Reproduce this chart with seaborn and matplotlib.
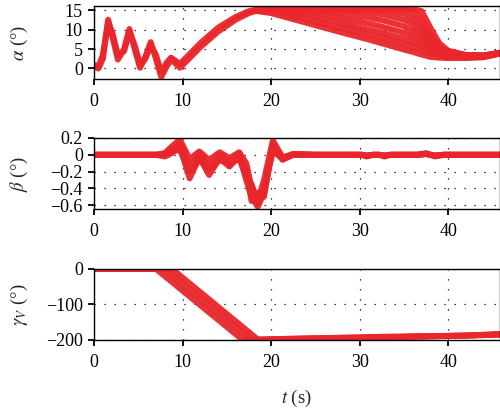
import numpy as np
import pandas as pd
import matplotlib
matplotlib.use("Agg")
import matplotlib.pyplot as plt
import seaborn as sns

# ---------------- data ----------------
# alpha: early common part (two runs) and the late fan (several runs)
alpha_t_early = [0, 0.5, 1.0, 1.6, 2.1, 2.7, 3.4, 4.0, 4.6, 5.2, 5.8, 6.4, 7.0, 7.6,
                 8.2, 8.7, 9.2, 9.7, 10.5, 12, 14, 16, 17.5, 18.5]
alpha_early_1 = [0.5, 0.0, 2.5, 12.6, 8.0, 2.3, 5.0, 10.2, 5.0, 0.2, 3.0, 6.8, 2.5, -2.2,
                 0.5, 2.3, 1.3, 0.2, 2.0, 5.5, 9.5, 12.6, 14.3, 15.0]
alpha_early_2 = [1.0, 0.5, 3.5, 12.0, 9.0, 3.5, 4.5, 9.5, 6.0, 1.0, 2.5, 6.0, 3.5, -1.0,
                 1.5, 2.8, 2.0, 1.2, 3.0, 6.5, 10.5, 13.3, 14.8, 15.3]

alpha_t_late = [18.5, 20, 24, 28, 31, 33, 35, 36, 37, 38, 39, 40, 42, 44, 46]
alpha_late_A = [14.8, 14.3, 11.8, 9.3, 7.5, 6.2, 4.9, 4.3, 3.6, 3.0, 2.8, 2.7, 2.7, 2.9, 3.9]
alpha_late_B = [15.0, 14.9, 12.8, 10.4, 8.8, 7.6, 6.3, 5.6, 4.8, 4.0, 3.3, 3.0, 2.9, 3.0, 4.0]
alpha_late_C = [15.1, 15.2, 13.8, 11.6, 10.0, 8.9, 7.6, 6.8, 5.8, 4.6, 3.7, 3.2, 3.0, 3.1, 4.0]
alpha_late_D = [15.2, 15.4, 14.8, 13.0, 11.6, 10.5, 9.2, 8.3, 7.0, 5.5, 4.2, 3.5, 3.1, 3.2, 4.0]
alpha_late_E = [15.3, 15.5, 15.3, 14.3, 13.2, 12.2, 10.9, 9.8, 8.2, 6.2, 4.5, 3.7, 3.2, 3.2, 4.1]
alpha_late_F = [15.3, 15.6, 15.5, 15.2, 14.6, 13.8, 12.6, 11.5, 9.6, 6.8, 4.8, 3.9, 3.3, 3.3, 4.1]
alpha_late_G = [15.3, 15.6, 15.6, 15.5, 15.3, 15.0, 14.2, 13.0, 10.8, 7.4, 5.1, 4.0, 3.3, 3.3, 4.1]
alpha_late_H = [15.3, 15.6, 15.6, 15.6, 15.6, 15.5, 15.3, 14.8, 12.5, 8.5, 5.6, 4.3, 3.4, 3.3, 4.1]
alpha_late_I = [15.3, 15.6, 15.6, 15.6, 15.6, 15.6, 15.5, 15.4, 14.8, 10.5, 6.5, 4.6, 3.5, 3.4, 4.1]

# beta runs
beta_t = [0, 7, 8, 8.8, 9.7, 10.8, 11.9, 13.0, 14.2, 15.3, 16.4, 17.2, 17.8, 18.5, 19.2,
          20.2, 21.3, 22.5, 25, 30.2, 30.8, 31.5, 32.2, 32.8, 33.5, 36.5, 37.5, 38.5, 39.5, 46]
beta_1 = [0, 0, 0.02, 0.10, 0.18, -0.05, 0.04, -0.06, 0.03, -0.04, 0.03, -0.10, -0.40, -0.55, -0.30,
          0.17, -0.03, 0.01, 0, 0, -0.02, 0, 0, -0.02, 0, 0, 0.01, -0.01, 0, 0]
beta_2 = [0, 0, -0.02, 0.02, 0.10, -0.28, -0.03, -0.24, -0.04, -0.14, -0.01, -0.30, -0.50, -0.62, -0.45,
          0.08, -0.06, 0, 0, 0, -0.01, 0, 0, -0.01, 0, 0, 0.02, -0.02, 0, 0]
beta_3 = [0, 0, 0.01, 0.06, 0.14, -0.15, 0.02, -0.15, 0.0, -0.10, 0.01, -0.20, -0.55, -0.45, -0.50,
          0.12, -0.05, 0.01, 0, 0, -0.01, 0, 0, -0.01, 0, 0, 0.01, -0.01, 0, 0]
beta_4 = [0, 0, 0.0, 0.04, 0.06, -0.20, -0.06, -0.18, -0.06, -0.12, -0.04, -0.25, -0.35, -0.58, -0.40,
          0.04, -0.04, 0, 0, 0, -0.01, 0, 0, -0.01, 0, 0, 0.01, -0.01, 0, 0]

# gamma_V runs
gamma_t_1 = [0, 7.0, 16.8, 18.0, 22, 26, 33, 42, 46]
gamma_1 = [0, 0, -200, -199, -197, -195, -191, -188, -185]
gamma_t_2 = [0, 8.8, 18.7, 20, 23, 33, 36, 42, 46]
gamma_2 = [0, 0, -203, -201, -198, -193, -191, -188, -183]
gamma_t_3 = [0, 7.9, 17.8, 19.5, 24, 32, 40, 46]
gamma_3 = [0, 0, -201, -199, -196, -193, -189, -185]

x_ticks = [0, 10, 20, 30, 40]
alpha_ticks = [0, 5, 10, 15]
beta_ticks = [0.2, 0, -0.2, -0.4, -0.6]
gamma_ticks = [0, -100, -200]


def long(runs):
    frames = []
    for name, (t, v) in runs.items():
        frames.append(pd.DataFrame({"t": t, "v": v, "run": name}))
    return pd.concat(frames, ignore_index=True)


df_alpha = long({
    "e1": (alpha_t_early, alpha_early_1), "e2": (alpha_t_early, alpha_early_2),
    "A": (alpha_t_late, alpha_late_A), "B": (alpha_t_late, alpha_late_B),
    "C": (alpha_t_late, alpha_late_C), "D": (alpha_t_late, alpha_late_D),
    "E": (alpha_t_late, alpha_late_E), "F": (alpha_t_late, alpha_late_F),
    "G": (alpha_t_late, alpha_late_G), "H": (alpha_t_late, alpha_late_H),
    "I": (alpha_t_late, alpha_late_I),
})
df_beta = long({"1": (beta_t, beta_1), "2": (beta_t, beta_2),
                "3": (beta_t, beta_3), "4": (beta_t, beta_4)})
df_gamma = long({"1": (gamma_t_1, gamma_1), "2": (gamma_t_2, gamma_2), "3": (gamma_t_3, gamma_3)})

# ---------------- style ----------------
sns.set_style("ticks")
plt.rcParams["font.family"] = ["Liberation Serif", "DejaVu Serif"]
plt.rcParams["mathtext.fontset"] = "stix"
plt.rcParams["font.size"] = 13

RED = "#e8262b"

fig = plt.figure(figsize=(5.0, 4.09), dpi=100)
left, width = 0.188, 0.811
ax1 = fig.add_axes([left, 0.806, width, 0.180])
ax2 = fig.add_axes([left, 0.489, width, 0.1736])
ax3 = fig.add_axes([left, 0.169, width, 0.1736])

panels = [
    (ax1, df_alpha, (-2.8, 16.2), alpha_ticks, r"$\alpha$ (°)"),
    (ax2, df_beta, (-0.645, 0.2), beta_ticks, r"$\beta$ (°)"),
    (ax3, df_gamma, (-200, 0), gamma_ticks, r"$\gamma_V$ (°)"),
]

for ax, df, ylim, yt, ylab in panels:
    sns.lineplot(data=df, x="t", y="v", units="run", estimator=None, color=RED,
                 linewidth=4.3, alpha=0.95, ax=ax, legend=False, sort=False)
    ax.set_xlim(0, 45.8)
    ax.set_ylim(*ylim)
    ax.set_xticks(x_ticks)
    ax.set_yticks(yt)
    ax.set_yticklabels([("%g" % v).replace("-", "\u2212") for v in yt])
    ax.set_xticklabels([str(v) for v in x_ticks])
    ax.set_xlabel("")
    ax.set_ylabel(ylab, fontsize=13.5)
    ax.yaxis.set_label_coords(-0.158, 0.5)
    ax.set_axisbelow(True)
    ax.grid(True, color="black", linestyle=(0, (1, 7)), linewidth=0.9)
    for s in ax.spines.values():
        s.set_visible(True)
        s.set_color("black")
        s.set_linewidth(1.0)
    ax.tick_params(direction="out", length=4, width=1.3, colors="black",
                   labelsize=13)
    ax.tick_params(axis="x", pad=6)
    ax.tick_params(axis="y", pad=4)

ax3.set_xlabel("$t$ (s)", fontsize=13.5, labelpad=12)

fig.savefig("out.png", dpi=100)
